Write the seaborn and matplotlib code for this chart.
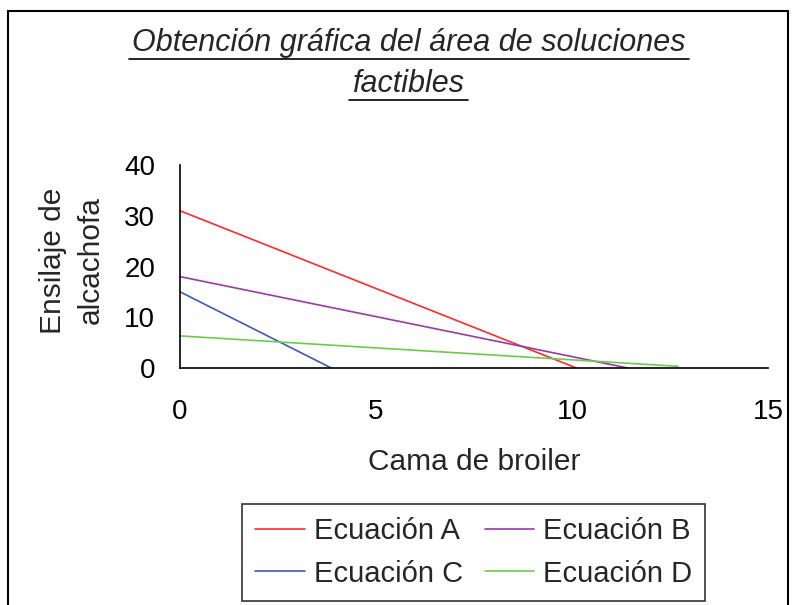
import pandas as pd
import matplotlib
matplotlib.use("Agg")
import matplotlib.pyplot as plt
import seaborn as sns
from matplotlib.lines import Line2D
from matplotlib.patches import Rectangle

# end points of each constraint line
series = ['Ecuación A', 'Ecuación B', 'Ecuación C', 'Ecuación D']
x_a = [0, 10.1]
y_a = [31, 0]
x_b = [0, 11.4]
y_b = [18, 0]
x_c = [0, 3.85]
y_c = [15, 0]
x_d = [0, 12.7]
y_d = [6.3, 0.3]
colors = ['#ff2a2a', '#9a3aa8', '#3a58c8', '#6ccc4a']

rows = []
for name, xs, ys in zip(series, [x_a, x_b, x_c, x_d], [y_a, y_b, y_c, y_d]):
    for x, y in zip(xs, ys):
        rows.append({'x': x, 'y': y, 'serie': name})
df = pd.DataFrame(rows)

sns.set_style("white")
plt.rcParams['font.family'] = ['Liberation Sans', 'DejaVu Sans']

fig = plt.figure(figsize=(7.98, 6.05), dpi=100)
ax = fig.add_axes([0.2256, 0.392, 0.737, 0.335])

sns.lineplot(data=df, x='x', y='y', hue='serie', palette=colors, ax=ax,
             linewidth=1.2, legend=False)

ax.set_xlim(0, 15)
ax.set_ylim(0, 40)
ax.set_xticks([0, 5, 10, 15])
ax.set_yticks([0, 10, 20, 30, 40])
ax.tick_params(axis='both', labelsize=20, direction='out', length=7, width=1.2,
               color='black', colors='black')
ax.tick_params(axis='y', pad=11)
ax.tick_params(axis='x', pad=15.5)
for s in ['top', 'right']:
    ax.spines[s].set_visible(False)
for s in ['left', 'bottom']:
    ax.spines[s].set_color('black')
    ax.spines[s].set_linewidth(1.2)

ax.set_xlabel('Cama de broiler', fontsize=21.5, labelpad=16.5)
ax.set_ylabel('Ensilaje de\nalcachofa', fontsize=21.5, labelpad=14, linespacing=1.45)
ax.yaxis.label.set_y(0.53)

# title, italic and underlined
t1 = fig.text(0.512, 0.915, 'Obtención gráfica del área de soluciones', fontsize=22,
              style='italic', ha='center', va='baseline')
t2 = fig.text(0.512, 0.848, 'factibles', fontsize=22, style='italic',
              ha='center', va='baseline')
fig.canvas.draw()
r = fig.canvas.get_renderer()
for t in [t1, t2]:
    bb = t.get_window_extent(r).transformed(fig.transFigure.inverted())
    yb = t.get_position()[1] - 0.013
    fig.add_artist(Line2D([bb.x0 - 0.004, bb.x1 + 0.004], [yb, yb], color='black', lw=1.2,
                          transform=fig.transFigure))

# legend filled row by row: A B / C D
order = [0, 2, 1, 3]
handles = [Line2D([], [], color=colors[i], lw=1.2) for i in order]
labels = [series[i] for i in order]
leg = fig.legend(handles, labels, loc='lower center', bbox_to_anchor=(0.5935, 0.007),
                 ncol=2, fontsize=21, frameon=True, fancybox=False,
                 handlelength=1.7, handletextpad=0.3, columnspacing=0.75,
                 labelspacing=0.5, borderaxespad=0, borderpad=0.45)
leg.get_frame().set_edgecolor('black')
leg.get_frame().set_linewidth(1.2)

fig.add_artist(Rectangle((0.01, -0.05), 0.977, 1.032, transform=fig.transFigure,
                         fill=False, edgecolor='black', lw=1.5, clip_on=False))

fig.savefig('out.png', dpi=100)
